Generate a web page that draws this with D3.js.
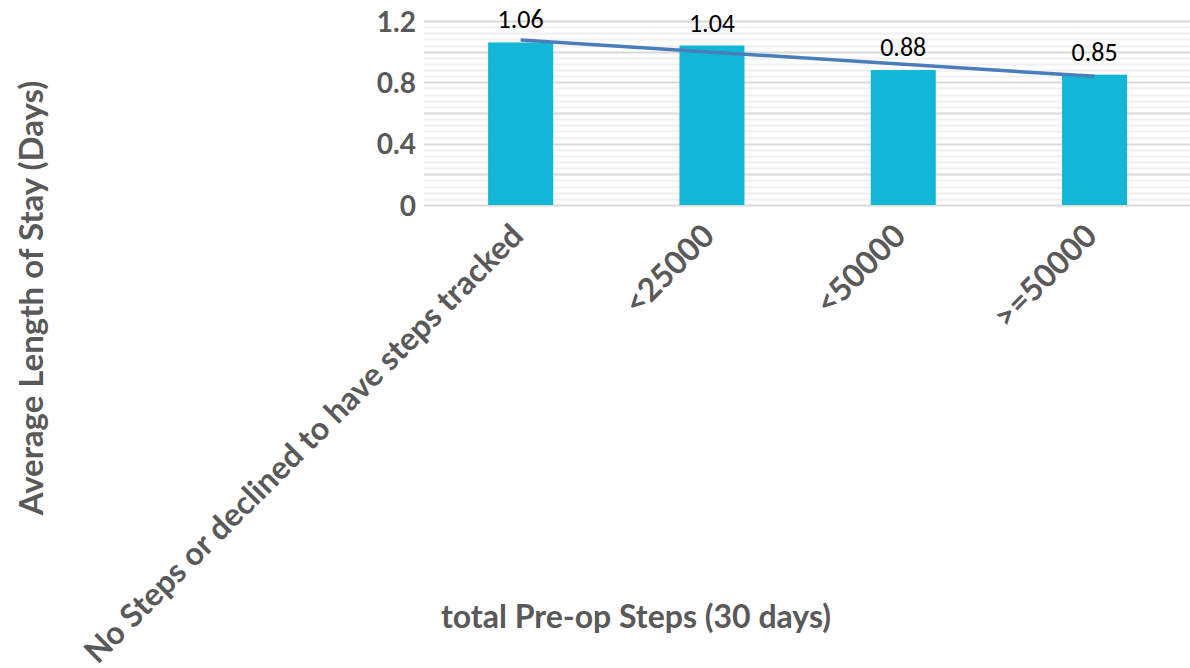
<!DOCTYPE html>
<html lang="en">
<head>
<meta charset="UTF-8">
<title>Average Length of Stay</title>
<script src="https://cdn.jsdelivr.net/npm/d3@7"></script>
<style>
    body { margin: 0; background: #fff; }
    svg { display: block; }
</style>
</head>
<body>
<script>
    // categories and values
    var categories = ["No Steps or declined to have steps tracked", "<25000", "<50000", ">=50000"];
    var stayValues = [1.06, 1.04, 0.88, 0.85];
    var yTicks = [0, 0.4, 0.8, 1.2];

    var W = 1190, H = 668;
    var plot = {left: 424, right: 1190, top: 21, bottom: 205};

    var svg = d3.select("body").append("svg")
        .attr("width", W)
        .attr("height", H);

    var x = d3.scaleBand()
        .domain(categories)
        .range([plot.left + 1, plot.left + 1 + 191.3 * 4])
        .paddingInner(0.66)
        .paddingOuter(0.33);

    var y = d3.scaleLinear()
        .domain([0, 1.2])
        .range([plot.bottom, plot.top]);

    // gridlines: light every 0.04, darker every 0.2
    var grid = d3.range(0, 31).map(function(i) { return +(i * 0.04).toFixed(2); });
    svg.append("g").selectAll("line")
        .data(grid)
        .enter().append("line")
        .attr("x1", plot.left)
        .attr("x2", plot.right)
        .attr("y1", function(d) { return Math.round(y(d)) + 0.5; })
        .attr("y2", function(d) { return Math.round(y(d)) + 0.5; })
        .attr("stroke", function(d) {
            return (Math.round(d * 100) % 20 === 0) ? "#d9d9d9" : "#f0f0f0";
        })
        .attr("stroke-width", 2);

    // y axis labels
    var yAxis = d3.axisLeft(y).tickValues(yTicks).tickSize(0).tickPadding(8)
        .tickFormat(function(d) { return d === 0 ? "0" : d3.format(".1f")(d); });
    var gy = svg.append("g")
        .attr("transform", "translate(" + plot.left + ",0)")
        .call(yAxis);
    gy.select(".domain").remove();
    gy.selectAll("text")
        .attr("font-family", "Lato")
        .attr("font-weight", "bold")
        .attr("font-size", 28)
        .attr("fill", "#595959")
        .attr("dy", "0.36em");

    // bars
    svg.append("g").selectAll("rect")
        .data(stayValues)
        .enter().append("rect")
        .attr("x", function(d, i) { return x(categories[i]); })
        .attr("y", function(d) { return y(d); })
        .attr("width", x.bandwidth())
        .attr("height", function(d) { return y(0) - y(d); })
        .attr("fill", "#13b6d5");

    // linear trendline fitted to the bar values
    var xs = stayValues.map(function(d, i) { return i; });
    var mx = d3.mean(xs), my = d3.mean(stayValues);
    var slope = d3.sum(xs, function(v, i) { return (v - mx) * (stayValues[i] - my); }) /
                d3.sum(xs, function(v) { return (v - mx) * (v - mx); });
    var icpt = my - slope * mx;
    var trend = [0, categories.length - 1].map(function(i) {
        return [x(categories[i]) + x.bandwidth() / 2, y(icpt + slope * i)];
    });
    svg.append("path")
        .attr("d", d3.line()(trend))
        .attr("fill", "none")
        .attr("stroke", "#4a7ebb")
        .attr("stroke-width", 3.5);

    // value labels
    svg.append("g").selectAll("text")
        .data(stayValues)
        .enter().append("text")
        .attr("x", function(d, i) { return x(categories[i]) + x.bandwidth() / 2; })
        .attr("y", function(d) { return y(d) - 14; })
        .attr("text-anchor", "middle")
        .attr("font-family", "Carlito, Lato, sans-serif")
        .attr("font-size", 26)
        .attr("fill", "#000")
        .text(function(d) { return d3.format(".2f")(d); });

    // category labels, rotated
    svg.append("g").selectAll("text")
        .data(categories)
        .enter().append("text")
        .attr("transform", function(d) {
            return "translate(" + (x(d) + x.bandwidth() / 2 - 11.5) + "," + (plot.bottom + 17) + ") rotate(-45)";
        })
        .attr("text-anchor", "end")
        .attr("dy", "0.7em")
        .attr("font-family", "Lato")
        .attr("font-weight", "bold")
        .attr("font-size", 32)
        .attr("fill", "#595959")
        .text(function(d) { return d; });

    // axis titles
    svg.append("text")
        .attr("transform", "translate(43,298) rotate(-90)")
        .attr("text-anchor", "middle")
        .attr("font-family", "Lato")
        .attr("font-weight", "bold")
        .attr("font-size", 33)
        .attr("fill", "#595959")
        .text("Average Length of Stay (Days)");

    svg.append("text")
        .attr("x", 636)
        .attr("y", 628)
        .attr("text-anchor", "middle")
        .attr("font-family", "Lato")
        .attr("font-weight", "bold")
        .attr("font-size", 32)
        .attr("fill", "#595959")
        .text("total Pre-op Steps (30 days)");
</script>
</body>
</html>
